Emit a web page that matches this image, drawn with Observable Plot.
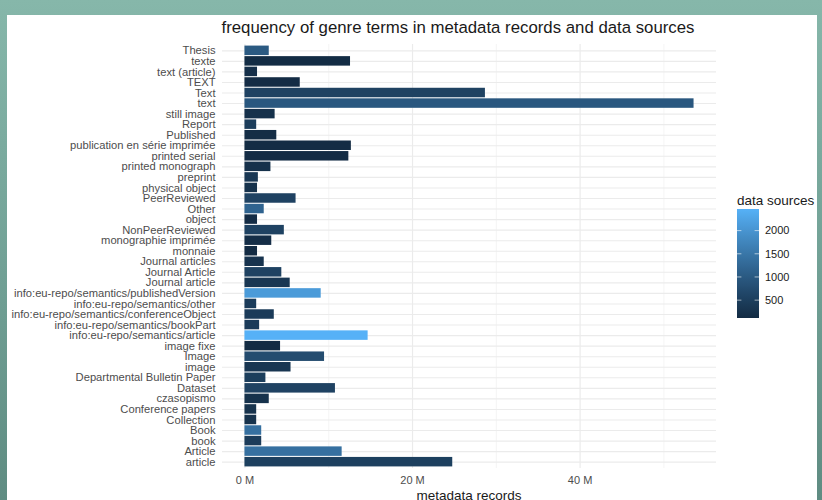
<!DOCTYPE html>
<html>
<head>
<meta charset="utf-8">
<script src="https://cdn.jsdelivr.net/npm/d3@7"></script>
<script src="https://cdn.jsdelivr.net/npm/@observablehq/plot@0.6"></script>
<style>
  html, body { margin: 0; padding: 0; }
  body { width: 822px; height: 500px; position: relative; overflow: hidden;
         background: linear-gradient(180deg, #86b7aa 0%, #6f9e93 60%, #5f8c82 100%);
         font-family: "Liberation Sans", Arial, Helvetica, sans-serif; }
  #panel { position: absolute; left: 7px; top: 15px; width: 810px; height: 490px; background: #fff; }
  #chart { position: absolute; left: 0; top: 0; }
  .txt { position: absolute; white-space: nowrap; color: #1a1a1a; }
</style>
</head>
<body>
<div id="panel"></div>
<div id="chart"></div>
<div class="txt" id="title" style="left:0;width:916px;text-align:center;top:18px;font-size:16.8px;">frequency of genre terms in metadata records and data sources</div>
<div class="txt" id="xlab" style="left:0;width:938px;text-align:center;top:488px;font-size:13.5px;">metadata records</div>
<script>
// Categories, top to bottom as in the reference
const categories = [
  "Thesis", "texte", "text (article)", "TEXT", "Text", "text", "still image", "Report",
  "Published", "publication en série imprimée", "printed serial", "printed monograph",
  "preprint", "physical object", "PeerReviewed", "Other", "object", "NonPeerReviewed",
  "monographie imprimée", "monnaie", "Journal articles", "Journal Article", "Journal article",
  "info:eu-repo/semantics/publishedVersion", "info:eu-repo/semantics/other",
  "info:eu-repo/semantics/conferenceObject", "info:eu-repo/semantics/bookPart",
  "info:eu-repo/semantics/article", "image fixe", "Image", "image",
  "Departmental Bulletin Paper", "Dataset", "czasopismo", "Conference papers",
  "Collection", "Book", "book", "Article", "article"
];
// metadata records (count)
const records = [
  2.9e6, 12.6e6, 1.5e6, 6.6e6, 28.7e6, 53.6e6, 3.6e6, 1.4e6,
  3.8e6, 12.7e6, 12.4e6, 3.1e6,
  1.6e6, 1.5e6, 6.1e6, 2.3e6, 1.5e6, 4.7e6,
  3.2e6, 1.5e6, 2.3e6, 4.4e6, 5.4e6,
  9.1e6, 1.4e6,
  3.5e6, 1.75e6,
  14.7e6, 4.25e6, 9.5e6, 5.5e6,
  2.5e6, 10.8e6, 2.9e6, 1.4e6,
  1.4e6, 2.0e6, 2.0e6, 11.6e6, 24.8e6
];
// data sources (count)
const sources = [
  1000, 130, 200, 140, 560, 960, 230, 470,
  150, 135, 140, 230,
  350, 250, 560, 1170, 140, 560,
  180, 120, 280, 560, 350,
  2110, 430,
  430, 430,
  2466, 115, 750, 330,
  480, 560, 250, 270,
  270, 1390, 450, 1400, 520
];
const legendTicks = [500, 1000, 1500, 2000];
const xTicks = [0, 20e6, 40e6];
const xMinor = [10e6, 30e6, 50e6];

const data = categories.map((g, i) => ({genre: g, records: records[i], sources: sources[i]}));

const plot = Plot.plot({
  width: 822, height: 500,
  marginLeft: 222, marginRight: 106, marginTop: 44, marginBottom: 32,
  style: {background: "transparent", fontFamily: "'Liberation Sans', Arial, sans-serif", overflow: "visible"},
  x: {domain: [-2.68e6, 56.28e6]},
  y: {domain: categories, paddingInner: 0.1, paddingOuter: 0.15, round: false},
  color: {type: "linear", domain: [d3.min(sources), d3.max(sources)], range: ["#132B43", "#56B1F7"], interpolate: "lab"},
  marks: [
    Plot.ruleX(xMinor, {stroke: "#f1f1f1", strokeWidth: 0.8}),
    Plot.ruleX(xTicks, {stroke: "#ebebeb", strokeWidth: 1.2}),
    Plot.ruleY(categories, {y: d => d, stroke: "#ebebeb", strokeWidth: 1.1}),
    Plot.barX(data, {x: "records", y: "genre", fill: "sources"}),
    Plot.axisX({ticks: xTicks, tickFormat: d => (d / 1e6) + " M", tickSize: 0, tickPadding: 8, label: null, fontSize: 11, color: "#4d4d4d"}),
    Plot.axisY({tickSize: 0, tickPadding: 7, label: null, fontSize: 11.2, color: "#4d4d4d"})
  ]
});
document.getElementById("chart").appendChild(plot);

// Vertical colour-bar legend built from the plot's own colour scale
const color = plot.scale("color");
const [cmin, cmax] = color.domain;
const svg = d3.select(plot);
const lx = 737, lw = 22, ly0 = 209, ly1 = 318;
const ly = d3.scaleLinear().domain([cmin, cmax]).range([ly1, ly0]);
const defs = svg.append("defs");
const grad = defs.append("linearGradient").attr("id", "lg").attr("x1", 0).attr("x2", 0).attr("y1", 1).attr("y2", 0);
d3.range(0, 1.0001, 0.05).forEach(t => {
  grad.append("stop").attr("offset", t).attr("stop-color", color.apply(cmin + t * (cmax - cmin)));
});
const lg = svg.append("g").attr("text-anchor", "start");
lg.append("text").attr("x", lx).attr("y", 205).attr("font-size", 13.5).attr("fill", "#1a1a1a").text("data sources");
lg.append("rect").attr("x", lx).attr("y", ly0).attr("width", lw).attr("height", ly1 - ly0).attr("fill", "url(#lg)");
legendTicks.forEach(v => {
  const y = ly(v);
  lg.append("line").attr("x1", lx).attr("x2", lx + 4.4).attr("y1", y).attr("y2", y).attr("stroke", "#fff").attr("stroke-width", 0.6);
  lg.append("line").attr("x1", lx + lw - 4.4).attr("x2", lx + lw).attr("y1", y).attr("y2", y).attr("stroke", "#fff").attr("stroke-width", 0.6);
  lg.append("text").attr("x", lx + lw + 6).attr("y", y).attr("dy", "0.35em").attr("font-size", 11).attr("fill", "#1a1a1a").text(v);
});
</script>
</body>
</html>
